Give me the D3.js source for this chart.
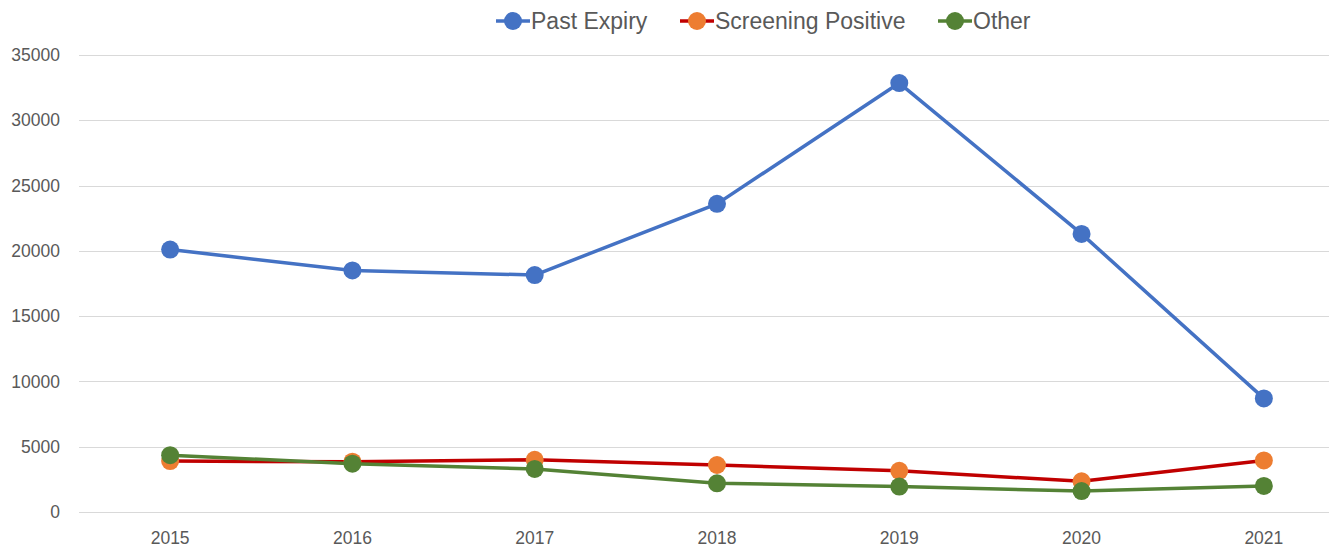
<!DOCTYPE html>
<html>
<head>
<meta charset="utf-8">
<script src="https://cdn.jsdelivr.net/npm/d3@7"></script>
<style>
  body { margin: 0; background: #fff; }
  text { font-family: "Liberation Sans", Arial, sans-serif; fill: #595959; }
</style>
</head>
<body>
<div id="chart"></div>
<script>
var years = ["2015", "2016", "2017", "2018", "2019", "2020", "2021"];
var pastExpiry = [20100, 18500, 18150, 23600, 32850, 21300, 8700];
var screeningPositive = [3900, 3850, 4000, 3600, 3150, 2350, 3950];
var other = [4350, 3700, 3300, 2200, 1950, 1600, 2000];
var yTicks = [0, 5000, 10000, 15000, 20000, 25000, 30000, 35000];

var svgWidth = 1329;
var svgHeight = 551;

var series = [
  { name: "Past Expiry", values: pastExpiry, line: "#4472C4", dot: "#4472C4", lx: 513 },
  { name: "Screening Positive", values: screeningPositive, line: "#C00000", dot: "#ED7D31", lx: 697 },
  { name: "Other", values: other, line: "#548235", dot: "#548235", lx: 955 }
];

var svg = d3.select("#chart")
  .append("svg")
  .attr("width", svgWidth)
  .attr("height", svgHeight);

// plot runs past the right edge, as in the original
var x = d3.scaleBand()
  .domain(years)
  .range([79, 1355]);

var y = d3.scaleLinear()
  .domain([0, 35000])
  .range([512, 55]);

// gridlines
svg.append("g")
  .selectAll("line")
  .data(yTicks)
  .enter()
  .append("line")
  .attr("x1", 79)
  .attr("x2", 1355)
  .attr("y1", d => Math.round(y(d)) + 0.5)
  .attr("y2", d => Math.round(y(d)) + 0.5)
  .attr("stroke", "#D9D9D9")
  .attr("stroke-width", 1);

// y labels
var leftAxis = d3.axisLeft(y).tickValues(yTicks).tickSize(0).tickPadding(0).tickFormat(d3.format("d"));
var yAxis = svg.append("g")
  .attr("transform", "translate(60,0)")
  .call(leftAxis);
yAxis.select(".domain").remove();
yAxis.selectAll("text")
  .attr("font-size", 17.5)
  .style("font-family", "Liberation Sans, Arial, sans-serif")
  .attr("fill", "#595959");

// x labels
var bottomAxis = d3.axisBottom(x).tickSize(0).tickPadding(0);
var xAxis = svg.append("g")
  .attr("transform", "translate(0,532)")
  .call(bottomAxis);
xAxis.select(".domain").remove();
xAxis.selectAll("text")
  .attr("font-size", 17.5)
  .style("font-family", "Liberation Sans, Arial, sans-serif")
  .attr("fill", "#595959");

var line = d3.line()
  .x((d, i) => x(years[i]) + x.bandwidth() / 2)
  .y(d => y(d));

series.forEach(function(s) {
  var g = svg.append("g");
  g.append("path")
    .datum(s.values)
    .attr("d", line)
    .attr("fill", "none")
    .attr("stroke", s.line)
    .attr("stroke-width", 3.5)
    .attr("stroke-linejoin", "round");
  g.selectAll("circle")
    .data(s.values)
    .enter()
    .append("circle")
    .attr("cx", (d, i) => x(years[i]) + x.bandwidth() / 2)
    .attr("cy", d => y(d))
    .attr("r", 9)
    .attr("fill", s.dot);
});

// legend
var legend = svg.append("g");
series.forEach(function(s) {
  var item = legend.append("g").attr("transform", `translate(${s.lx},21)`);
  item.append("line")
    .attr("x1", -17).attr("x2", 17)
    .attr("stroke", s.line).attr("stroke-width", 3.5);
  item.append("circle")
    .attr("r", 9)
    .attr("fill", s.dot);
  item.append("text")
    .attr("x", 18)
    .attr("dy", "0.35em")
    .attr("font-size", 23)
    .text(s.name);
});
</script>
</body>
</html>
